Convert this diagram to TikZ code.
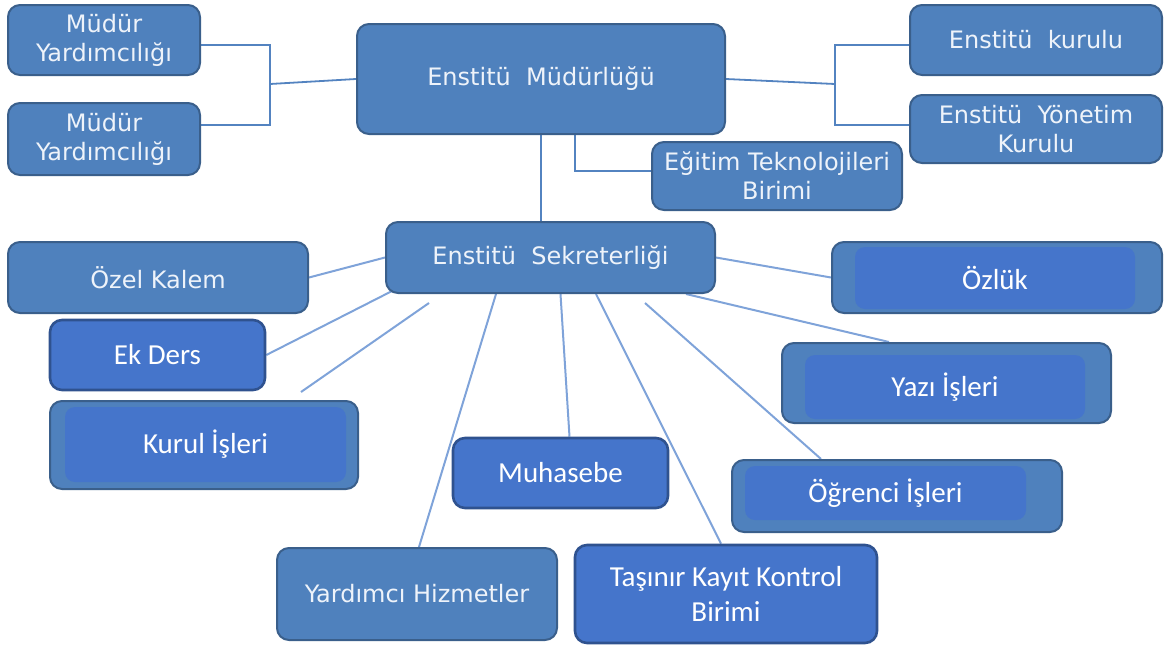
\documentclass[tikz,border=0pt]{standalone}
\usepackage{fontspec}
\setmainfont{DejaVu Sans}
\newfontfamily\calfont{Carlito}
\usetikzlibrary{calc}
\pgfdeclarelayer{bg}
\pgfsetlayers{bg,main}
\definecolor{mblue}{HTML}{4F81BD}
\definecolor{mborder}{HTML}{3A5F8B}
\definecolor{bblue}{HTML}{4575CB}
\definecolor{bborder}{HTML}{2F528F}
\definecolor{toplink}{HTML}{5383C0}
\definecolor{lowlink}{HTML}{7FA3D9}
\definecolor{softwhite}{HTML}{EEF3FA}
\begin{document}
\begin{tikzpicture}[x=1pt,y=-1pt]
\tikzstyle{every node}+=[inner sep=0pt]
\tikzstyle{mbox}=[fill=mblue, draw=mborder, line width=2pt, rounded corners=12pt, text=softwhite, align=center, font=\fontsize{24}{29}\selectfont]
\tikzstyle{bbox}=[fill=bblue, draw=bborder, line width=2.6pt, rounded corners=12pt, text=white, align=center, font=\calfont\fontsize{29}{35}\selectfont]
\tikzstyle{obox}=[fill=mblue, draw=mborder, line width=2pt, rounded corners=12pt]
\tikzstyle{ibox}=[fill=bblue, rounded corners=10pt, text=white, align=center, font=\calfont\fontsize{29}{35}\selectfont]
\tikzstyle{toplk}=[draw=toplink, line width=1.8pt]
\tikzstyle{lowlk}=[draw=lowlink, line width=2pt]
\useasboundingbox (0,0) rectangle (1167,646);
\node[mbox, minimum width=192pt, minimum height=70pt] (my1) at (104,40) {Müdür\\Yardımcılığı};
\node[mbox, minimum width=192pt, minimum height=72pt] (my2) at (104,139) {Müdür\\Yardımcılığı};
\node[mbox, minimum width=368pt, minimum height=110pt] (em) at (541,79) {Enstitü\ \ Müdürlüğü};
\node[mbox, minimum width=252pt, minimum height=70pt] (ek) at (1036,40) {Enstitü\ \ kurulu};
\node[mbox, minimum width=252pt, minimum height=68pt] (eyk) at (1036,129) {Enstitü\ \ Yönetim\\Kurulu};
\node[mbox, minimum width=250pt, minimum height=68pt] (etb) at (777,176) {Eğitim Teknolojileri\\Birimi};
\node[mbox, minimum width=329pt, minimum height=71pt] (es) at (550.5,257.5) {Enstitü\ \ Sekreterliği};
\node[mbox, minimum width=300pt, minimum height=71pt] (ok) at (158,277.5) {Özel Kalem};
\node[bbox, minimum width=215pt, minimum height=70pt] (ed) at (157.5,355) {Ek Ders};
\node[obox, minimum width=308pt, minimum height=88pt] (ki) at (204,445) {};
\node[ibox, minimum width=281pt, minimum height=75pt] (kiin) at (205.5,444.5) {Kurul İşleri};
\node[bbox, minimum width=215pt, minimum height=70pt] (muh) at (560.5,473) {Muhasebe};
\node[mbox, minimum width=280pt, minimum height=92pt] (yh) at (417,594) {Yardımcı Hizmetler};
\node[bbox, minimum width=302pt, minimum height=98pt] (tk) at (726,594) {Taşınır Kayıt Kontrol\\Birimi};
\node[obox, minimum width=330pt, minimum height=71pt] (oz) at (997,277.5) {};
\node[ibox, minimum width=280pt, minimum height=62pt] (ozin) at (995,278) {Özlük};
\node[obox, minimum width=329pt, minimum height=80pt] (yz) at (946.5,383) {};
\node[ibox, minimum width=280pt, minimum height=64pt] (yzin) at (945,387) {Yazı İşleri};
\node[obox, minimum width=330pt, minimum height=72pt] (og) at (897,496) {};
\node[ibox, minimum width=281pt, minimum height=54pt] (ogin) at (885.5,493) {Öğrenci İşleri};
\coordinate (lj) at (270,84);
\coordinate (rj) at (835,84);
\coordinate (kis) at (429,303);
\coordinate (kie) at (301,392);
\coordinate (ogs) at (645,303);
\begin{pgfonlayer}{bg}
\draw[toplk] ($(my1.east)+(0,5)$) -| (lj) |- ($(my2.east)+(0,-14)$);
\draw[toplk] (lj) -- (em.west);
\draw[toplk] ($(ek.west)+(0,5)$) -| (rj) |- ($(eyk.west)+(0,-4)$);
\draw[toplk] (em.east) -- (rj);
\draw[toplk] ($(em.south)+(34,0)$) |- ($(etb.west)+(0,-5)$);
\draw[toplk] (em.south) -- (em.south |- es.north);
\draw[lowlk] (es.west) -- (ok.east);
\draw[lowlk] ($(es.south west)+(11,-5)$) -- (ed.east);
\draw[lowlk] (kis) -- (kie);
\draw[lowlk] ($(es.south west)+(111,0)$) -- ($(yh.north)+(2,0)$);
\draw[lowlk] ($(es.south)+(10,0)$) -- ($(muh.north)+(9,0)$);
\draw[lowlk] ($(es.south east)+(-120,0)$) -- ($(tk.north)+(-5,0)$);
\draw[lowlk] (ogs) -- ($(og.north west)+(90,0)$);
\draw[lowlk] ($(es.south east)+(-30,0)$) -- ($(yz.north west)+(108,0)$);
\draw[lowlk] (es.east) -- (oz.west);
\end{pgfonlayer}
\end{tikzpicture}
\end{document}
